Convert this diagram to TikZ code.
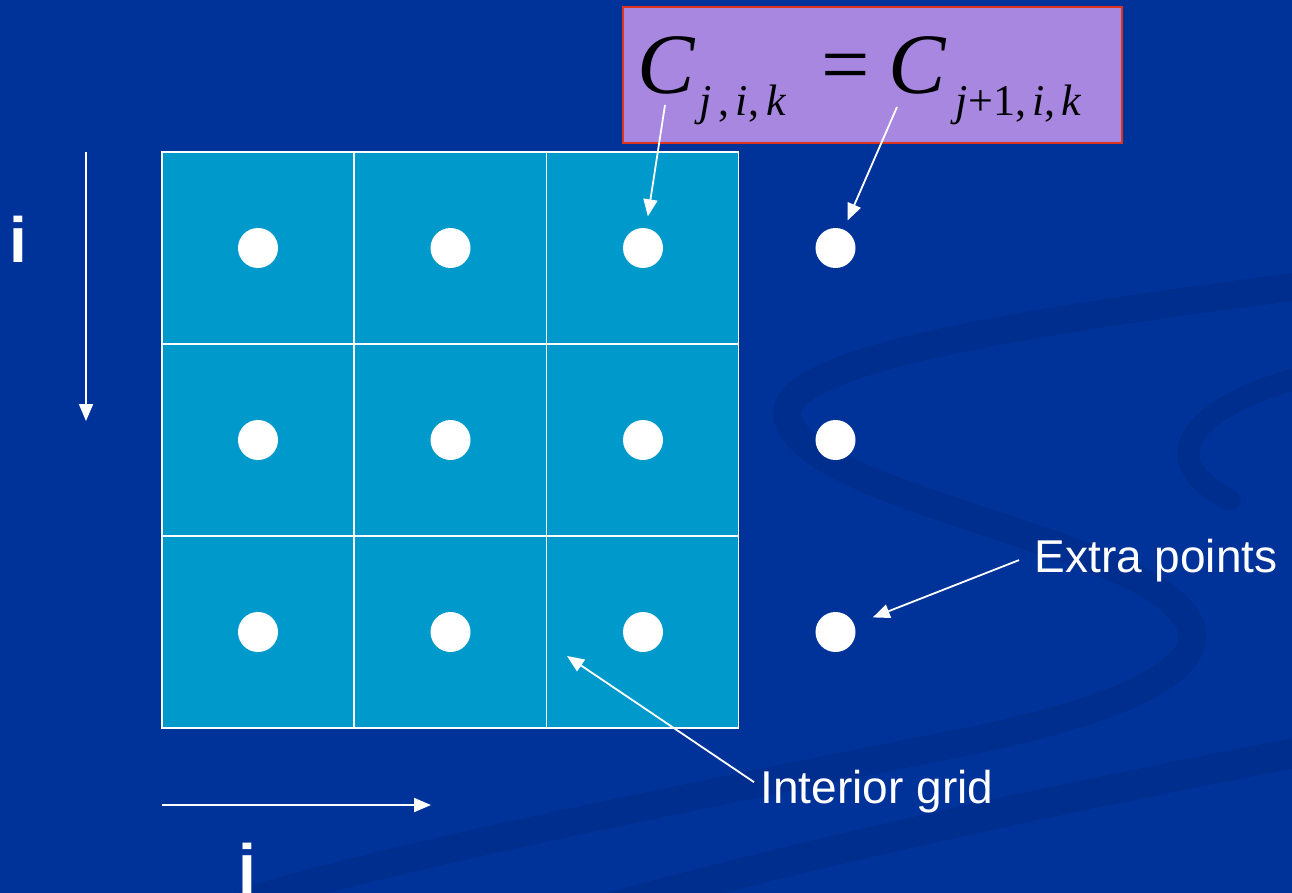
\documentclass[tikz,border=0pt]{standalone}
\usepackage{fontspec}
\setmainfont{Liberation Sans}
\newfontfamily\eqfont{Liberation Serif}
\newfontfamily\axfont{Liberation Sans Bold}
\usetikzlibrary{arrows.meta}

\definecolor{bgblue}{RGB}{0,51,153}
\definecolor{swirlblue}{RGB}{0,46,143}
\definecolor{cellblue}{RGB}{0,153,204}
\definecolor{eqfill}{RGB}{167,135,223}
\definecolor{eqred}{RGB}{222,52,30}

\newcommand{\eqsub}[1]{\raisebox{-22pt}{\fontsize{44}{44}\selectfont #1}}

\begin{document}
\begin{tikzpicture}[
  x=1pt,y=-1pt,
  cell/.style={draw=white,line width=1.5pt,fill=cellblue,minimum size=192pt,inner sep=0pt,outer sep=0pt},
  dot/.style={circle,fill=white,minimum size=40pt,inner sep=0pt,outer sep=0pt},
  eqbox/.style={draw=eqred,fill=eqfill,line width=2pt,minimum width=499pt,minimum height=136pt,inner sep=0pt},
  lbl/.style={text=white,font=\fontsize{46}{50}\selectfont},
  axlbl/.style={text=white,font=\axfont\fontsize{64}{64}\selectfont},
  ptr/.style={draw=white,line width=1.8pt,-{Triangle[length=17pt,width=14pt]}},
  swirl/.style={draw=swirlblue,line cap=round}
]
% slide background
\fill[bgblue] (0,0) rectangle (1292,893);
\useasboundingbox (0,0) rectangle (1292,893);
\draw[swirl,line width=28pt] (1310,285) .. controls (950,330) and (760,370) .. (790,425)
  .. controls (820,485) and (1010,520) .. (1130,575) .. controls (1260,640) and (1180,700) .. (950,745)
  .. controls (700,795) and (420,850) .. (250,900);
\draw[swirl,line width=22pt] (1310,375) .. controls (1190,405) and (1150,460) .. (1230,500);
\draw[swirl,line width=30pt] (1310,750) .. controls (1050,800) and (820,850) .. (600,910);

% interior grid
\foreach \r in {1,2,3}
  \foreach \c in {1,2,3}
    \node[cell] (cell-\r-\c) at ({258+192.3*(\c-1)},{248+192*(\r-1)}) {};

% grid points, last column = extra points
\foreach \r in {1,2,3}
  \foreach \c in {1,2,3,4}
    \node[dot] (dot-\r-\c) at ({258+192.5*(\c-1)},{248+192*(\r-1)}) {};

% boundary condition
\node[eqbox] (eqbox) at (872.5,75) {};
\node[anchor=base west,inner sep=0pt] (eq) at (637,94) {\eqfont\fontsize{86}{86}\selectfont\itshape
  C\hspace{5pt}\eqsub{j\hspace{7pt}\textup{,}\hspace{6pt}i\textup{,}\hspace{7pt}k}\hspace{36pt}\textup{=}\hspace{18pt}%
  C\hspace{10pt}\eqsub{j\hspace{1pt}\textup{+1,}\hspace{6pt}i\textup{,}\hspace{6pt}k}};
\coordinate (tailA) at (665,105);
\coordinate (tailB) at (897,107);
\draw[ptr,shorten >=12pt] (tailA) -- (dot-1-3);
\draw[ptr,shorten >=10pt] (tailB) -- (dot-1-4);

% index directions
\coordinate (itop) at (86,152);
\coordinate (ibot) at (86,421);
\coordinate (jleft) at (162,805);
\coordinate (jright) at (431,805);
\draw[ptr] (itop) -- (ibot);
\draw[ptr] (jleft) -- (jright);
\node[axlbl,anchor=base] (ilabel) at (18,262) {i};
\node[axlbl,anchor=base] (jlabel) at (247,889) {j};

% labels
\node[lbl,anchor=base west] (extra) at (1031,572) {Extra points};
\node[lbl,anchor=base west] (interior) at (757,803) {Interior grid};
\coordinate (gridpt) at (567,656);
\draw[ptr,shorten >=20pt] ([xshift=-12pt]extra.west) -- (dot-3-4);
\draw[ptr] ([xshift=-3pt,yshift=9pt]interior.west) -- (gridpt);
\end{tikzpicture}
\end{document}
